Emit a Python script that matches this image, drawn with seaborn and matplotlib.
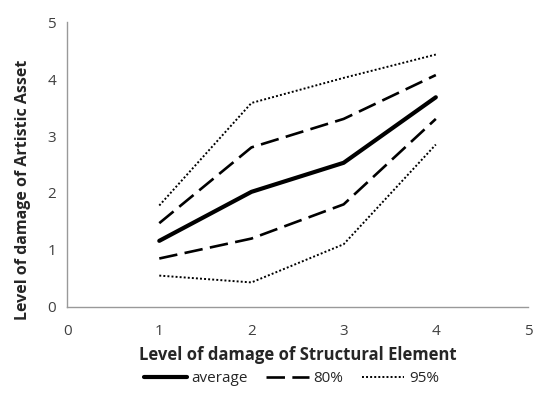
import matplotlib
matplotlib.use("Agg")
import matplotlib.pyplot as plt
import seaborn as sns
from matplotlib.lines import Line2D

levels = [1, 2, 3, 4]
average = [1.16, 2.02, 2.53, 3.68]
upper80 = [1.47, 2.80, 3.30, 4.07]
lower80 = [0.85, 1.20, 1.80, 3.30]
upper95 = [1.78, 3.58, 4.02, 4.43]
lower95 = [0.55, 0.43, 1.10, 2.85]
ticks = [0, 1, 2, 3, 4, 5]

sns.set_theme(style="white")
plt.rcParams['font.family'] = ['Open Sans', 'DejaVu Sans']

fig = plt.figure(figsize=(5.5, 3.94), dpi=100)
ax = fig.add_axes([0.122, 0.221, 0.838, 0.723])

LW_AVG, LW_DASH, LW_DOT = 3.0, 1.9, 1.4
DASH = (0, (7, 2.8))
DOT = (0, (1, 1.1))

sns.lineplot(x=levels, y=average, ax=ax, color='black', lw=LW_AVG, linestyle='-')
for s in (upper80, lower80):
    sns.lineplot(x=levels, y=s, ax=ax, color='black', lw=LW_DASH, linestyle=DASH)
for s in (upper95, lower95):
    sns.lineplot(x=levels, y=s, ax=ax, color='black', lw=LW_DOT, linestyle=DOT)

ax.set_xlim(0, 5)
ax.set_ylim(0, 5)
ax.set_xticks(ticks)
ax.set_yticks(ticks)
for sp in ('top', 'right'):
    ax.spines[sp].set_visible(False)
for sp in ('left', 'bottom'):
    ax.spines[sp].set_color('#999999')
    ax.spines[sp].set_linewidth(1.0)
ax.tick_params(axis='both', which='both', length=4, width=1, color='#999999',
               labelsize=11, labelcolor='#404040', direction='out')
ax.tick_params(axis='x', direction='in', pad=12)
ax.tick_params(axis='y', pad=4)

ax.set_xlabel('Level of damage of Structural Element', fontsize=12,
              fontweight='bold', labelpad=5)
ax.set_ylabel('Level of damage of Artistic Asset', fontsize=11.5,
              fontweight='bold')
ax.yaxis.set_label_coords(-0.078, 0.41)

handles = [Line2D([], [], color='black', lw=LW_AVG, linestyle='-'),
           Line2D([], [], color='black', lw=LW_DASH, linestyle=DASH),
           Line2D([], [], color='black', lw=LW_DOT, linestyle=DOT)]
fig.legend(handles, ['average', '80%', '95%'], loc='lower center',
           bbox_to_anchor=(0.53, -0.015), ncol=3, frameon=False, fontsize=11,
           handlelength=2.8, handletextpad=0.3, columnspacing=1.2)

fig.savefig('out.png', dpi=100)
